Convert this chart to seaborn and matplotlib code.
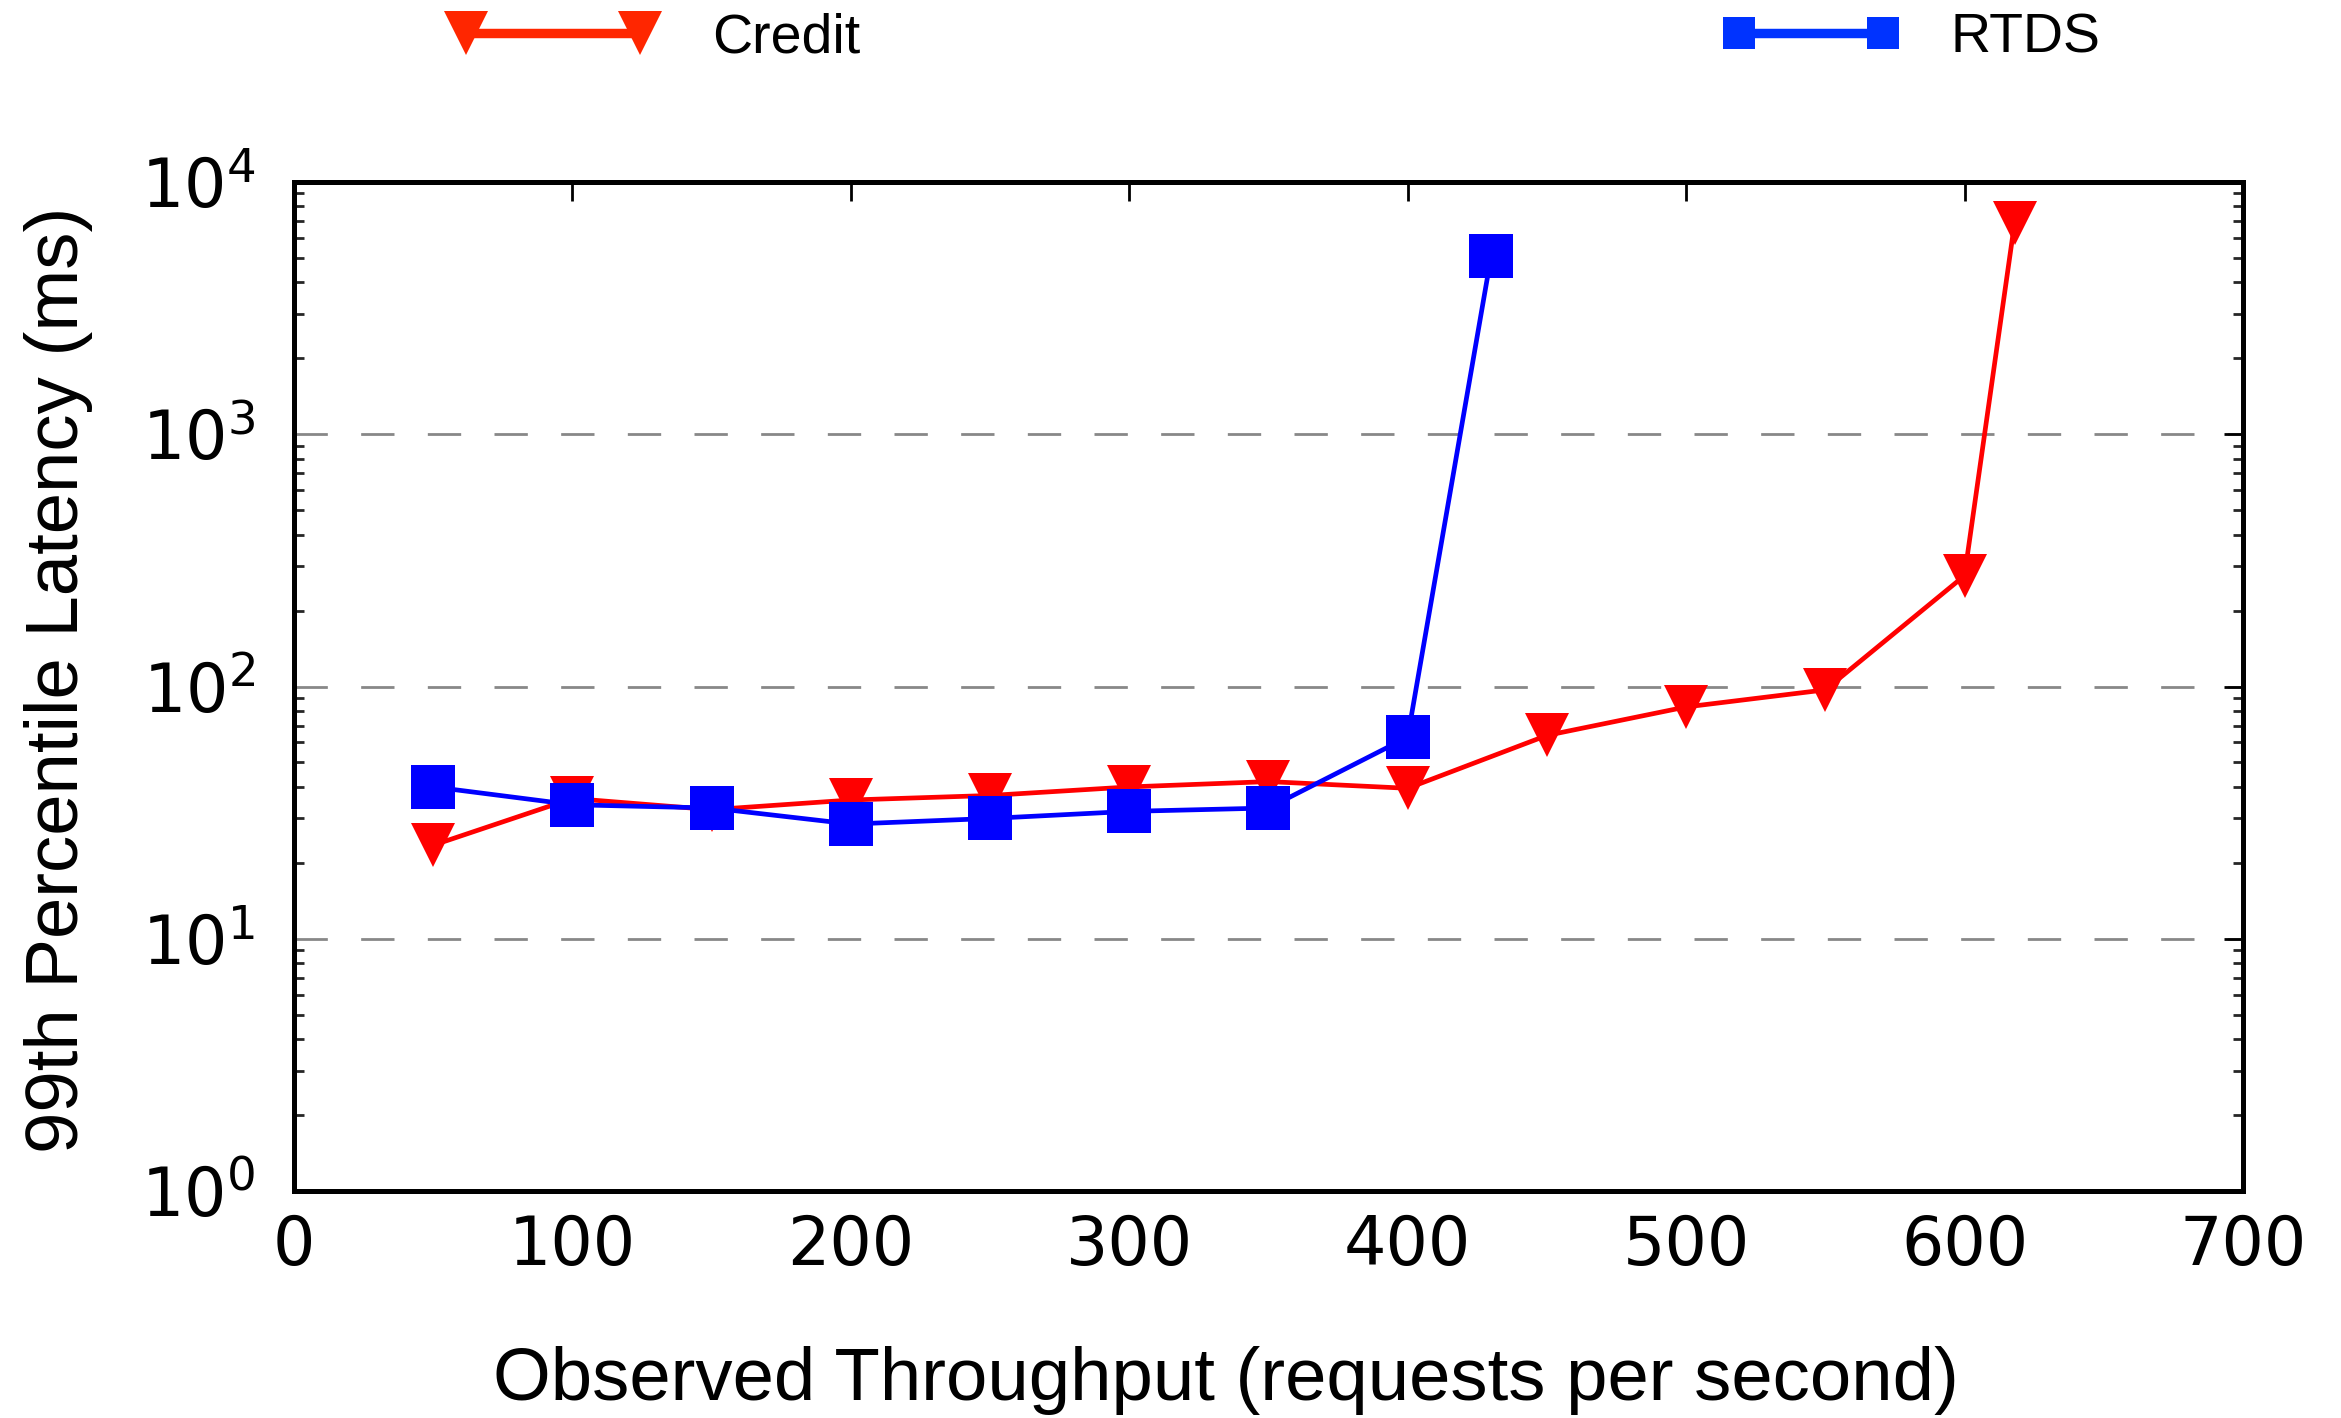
import matplotlib
matplotlib.use("Agg")
import matplotlib.pyplot as plt
import numpy as np
import pandas as pd
import seaborn as sns
from matplotlib.lines import Line2D
from matplotlib.ticker import LogLocator, MultipleLocator, NullFormatter

# values
credit_x = [50, 100, 150, 200, 250, 300, 350, 400, 450, 500, 550, 600, 618]
credit_y = [23.5, 36, 32.5, 35.5, 37, 40, 42, 39.5, 64, 83, 97, 275, 6900]
rtds_x = [50, 100, 150, 200, 250, 300, 350, 400, 430]
rtds_y = [40, 34, 33, 28.5, 30, 32, 33, 63, 5100]

series_names = ["Credit", "RTDS"]
line_colors = {"Credit": "#ff0000", "RTDS": "#0000ff"}
legend_colors = {"Credit": "#ff2600", "RTDS": "#0033ff"}
marker_map = {"Credit": "v", "RTDS": "s"}

x_label = "Observed Throughput (requests per second)"
y_label = "99th Percentile Latency (ms)"

df = pd.concat([
    pd.DataFrame({"tput": credit_x, "lat": credit_y, "system": "Credit"}),
    pd.DataFrame({"tput": rtds_x, "lat": rtds_y, "system": "RTDS"}),
], ignore_index=True)

sns.set_style("white")
plt.rcParams["font.family"] = ["DejaVu Sans"]
plt.rcParams["mathtext.fontset"] = "dejavusans"
plt.rcParams["text.color"] = "black"
plt.rcParams["axes.labelcolor"] = "black"
plt.rcParams["xtick.direction"] = "in"
plt.rcParams["ytick.direction"] = "in"

fig = plt.figure(figsize=(11.705, 7.09), dpi=200)
ax = fig.add_axes([0.1256, 0.160, 0.8325, 0.7117])

sns.lineplot(data=df, x="tput", y="lat", hue="system", style="system",
             hue_order=series_names, palette=line_colors, markers=marker_map,
             dashes=False, markersize=16, markeredgewidth=0, linewidth=1.7,
             legend=False, ax=ax, zorder=3)

ax.set_yscale("log")
ax.set_ylim(1, 1e4)
ax.set_xlim(0, 700)
ax.xaxis.set_major_locator(MultipleLocator(100))
ax.yaxis.set_major_locator(LogLocator(base=10, numticks=10))
ax.yaxis.set_minor_locator(LogLocator(base=10, subs=np.arange(2, 10), numticks=20))
ax.yaxis.set_minor_formatter(NullFormatter())

ax.grid(axis="y", which="major", color="#888888", linewidth=1.0,
        linestyle=(0, (12, 12)))
ax.set_axisbelow(True)

for sp in ax.spines.values():
    sp.set_linewidth(1.8)
    sp.set_color("black")

ax.tick_params(axis="both", which="major", direction="in", length=7, width=1.0,
               top=True, right=True, labelsize=24, colors="black")
ax.tick_params(axis="x", pad=8)
ax.tick_params(axis="y", pad=14)
ax.tick_params(axis="y", which="minor", direction="in", length=3.6, width=1.0,
               left=True, right=True)

ax.set_xlabel(x_label, fontsize=26.8, family="Liberation Sans", va="center",
              color="black")
ax.set_ylabel(y_label, fontsize=26.8, family="Liberation Sans", va="center",
              color="black")
ax.xaxis.set_label_coords(0.478, -0.188)
ax.yaxis.set_label_coords(-0.121, 0.507)

# legend above the axes, one block per series
legend_specs = [("Credit", 0.1919, 3.73, 15.8, 1.0), ("RTDS", 0.7357, 3.19, 11.5, 0.92)]
for name, x0, hl, ms, tp in legend_specs:
    h = Line2D([], [], color=legend_colors[name], marker=marker_map[name],
               markersize=ms, markeredgewidth=0, linewidth=3.4)
    fig.legend([h], [name], loc="center left", bbox_to_anchor=(x0, 0.973),
               frameon=False, numpoints=2, handlelength=hl, handletextpad=tp,
               borderpad=0, borderaxespad=0, labelcolor="black",
               prop={"family": "Liberation Sans", "size": 20})

fig.savefig("out.png", dpi=200)
